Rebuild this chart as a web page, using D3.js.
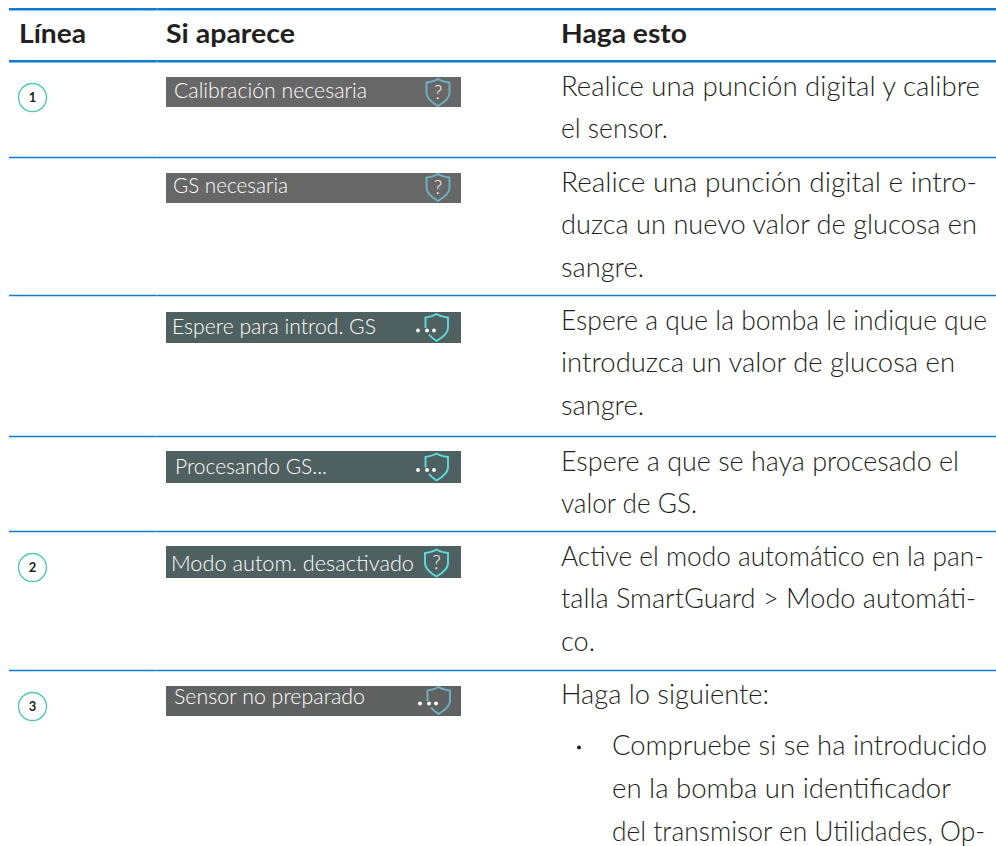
<!DOCTYPE html>
<html>
<head>
<meta charset="utf-8">
<script src="https://cdn.jsdelivr.net/npm/d3@7"></script>
<style>
html, body { margin: 0; padding: 0; background: #fff; overflow: hidden; }
text { font-family: "Lato", sans-serif; }
</style>
</head>
<body>
<div id="table"></div>
<script>
const headers = ['Línea', 'Si aparece', 'Haga esto'];
const lineNumbers = ['1', '', '', '', '2', '3'];
const bannerLabels = ['Calibración necesaria', 'GS necesaria', 'Espere para introd. GS',
  'Procesando GS...', 'Modo autom. desactivado', 'Sensor no preparado'];
const bannerIcons = ['help', 'help', 'wait', 'wait', 'help', 'wait'];
const bannerColors = ['#666766', '#666766', '#4f6060', '#4f6060', '#4f6060', '#5f6261'];
const iconColors = ['#6fb3c4', '#6fb3c4', '#5fdcdc', '#5fdcdc', '#5fdcdc', '#6fb3c4'];
const actionLines = [
  ['Realice una punción digital y calibre', 'el sensor.'],
  ['Realice una punción digital e intro-', 'duzca un nuevo valor de glucosa en', 'sangre.'],
  ['Espere a que la bomba le indique que', 'introduzca un valor de glucosa en', 'sangre.'],
  ['Espere a que se haya procesado el', 'valor de GS.'],
  ['Active el modo automático en la pan-', 'talla SmartGuard > Modo automáti-', 'co.'],
  ['Haga lo siguiente:']
];
const bulletLines = ['Compruebe si se ha introducido', 'en la bomba un identificador', 'del transmisor en Utilidades, Op-'];

// layout
const rowTops = [61, 157, 295, 436, 531, 670];
const actionWidths = [[419, 107], [416, 416, 83], [426, 394, 83], [398, 136], [423, 415, 34], [208]];
const bulletWidths = [375, 339, 373];
const bannerTop = [77, 173, 312, 451, 546, 686];
const bannerHeight = [30, 30, 31, 32, 32, 30];
const bannerTextX = [174, 173, 172, 175, 171, 174];
const bannerTextW = [193, 115, 204, 152, 243, 191];
const bannerBase = [97.7, 192.7, 334, 474, 570.7, 704];
const iconX = [438, 438, 436.5, 436.5, 436.5, 438.5];
const iconY = [92, 187, 327, 466.5, 562.5, 700];

const width = 996, height = 846;
const blue = '#0f7bd6', ink = '#231f20';
const colX = [9, 157, 996];
const lineStep = 42.7;

const svg = d3.select('#table').append('svg')
  .attr('width', width)
  .attr('height', height)
  .style('display', 'block');

// rules, split at the column edge as in the source table
const rules = [{ y: 9.2, w: 2.6 }, { y: 61.3, w: 2.6 }].concat(rowTops.slice(1).map(y => ({ y: y + 0.5, w: 1.3 })));
rules.forEach(r => {
  svg.append('line').attr('x1', colX[0]).attr('x2', colX[1] - 0.15).attr('y1', r.y).attr('y2', r.y)
    .attr('stroke', blue).attr('stroke-width', r.w);
  svg.append('line').attr('x1', colX[1] + 0.15).attr('x2', colX[2]).attr('y1', r.y).attr('y2', r.y)
    .attr('stroke', blue).attr('stroke-width', r.w);
});

// header
const headerX = [19, 166, 561], headerW = [67, 129, 126];
svg.selectAll('text.head').data(headers).enter().append('text')
  .attr('class', 'head')
  .attr('x', (d, i) => headerX[i])
  .attr('y', 43)
  .attr('font-size', 27)
  .attr('font-weight', 700)
  .attr('fill', ink)
  .attr('textLength', (d, i) => headerW[i])
  .attr('lengthAdjust', 'spacingAndGlyphs')
  .text(d => d);

const rows = svg.selectAll('g.row').data(rowTops).enter().append('g')
  .attr('class', 'row');

// numbered circles
const numbered = rows.filter((d, i) => lineNumbers[i] !== '');
numbered.append('circle')
  .attr('cx', 32.5).attr('cy', d => d + 36.5).attr('r', 14)
  .attr('fill', '#fff').attr('stroke', '#4fc9b4').attr('stroke-width', 1.4);
numbered.append('text')
  .attr('x', 32.5).attr('y', d => d + 41)
  .attr('text-anchor', 'middle')
  .attr('font-size', 13).attr('font-weight', 700).attr('fill', ink)
  .text(d => lineNumbers[rowTops.indexOf(d)]);

// banners
rows.append('rect')
  .attr('x', 166).attr('y', (d, i) => bannerTop[i]).attr('width', 295)
  .attr('height', (d, i) => bannerHeight[i])
  .attr('fill', (d, i) => bannerColors[i]);
rows.append('text')
  .attr('x', (d, i) => bannerTextX[i]).attr('y', (d, i) => bannerBase[i])
  .attr('font-size', 21).attr('font-weight', 300).attr('fill', '#fff')
  .attr('textLength', (d, i) => bannerTextW[i])
  .attr('lengthAdjust', 'spacingAndGlyphs')
  .text((d, i) => bannerLabels[i]);

// shield icons
const shieldPath = 'M0,-13 C4,-10.5 8,-10 11.5,-9.5 L11.5,1 C11.5,6 6,10.5 0,14 C-6,10.5 -11.5,6 -11.5,1 L-11.5,-9.5 C-8,-10 -4,-10.5 0,-13 Z';
const waitPath = 'M-11,1 L-11,-9.5 C-8,-10 -4,-10.5 0,-13 C4,-10.5 8,-10 11.5,-9.5 L11.5,1 C11.5,6 6,10.5 0,14 C-3,12 -5.5,10 -7.5,7.5';
const icons = rows.append('g').attr('transform', (d, i) => `translate(${iconX[i]},${iconY[i]})`);
icons.append('path')
  .attr('d', (d, i) => bannerIcons[i] === 'help' ? shieldPath : waitPath)
  .attr('fill', 'none')
  .attr('stroke', (d, i) => iconColors[i])
  .attr('stroke-width', 1.9);
icons.filter((d, i) => bannerIcons[i] === 'help').append('text')
  .attr('x', 0).attr('y', 6.5)
  .attr('text-anchor', 'middle')
  .attr('font-size', 19).attr('font-weight', 300).attr('fill', '#fff')
  .text('?');
icons.filter((d, i) => bannerIcons[i] === 'wait').selectAll('circle')
  .data([-18.5, -9.5, -2.5]).enter().append('circle')
  .attr('cx', d => d).attr('cy', 3.5).attr('r', 1.9).attr('fill', '#fff');

// right column
rows.each(function (top, i) {
  const baseline = i === 5 ? 33.5 : 34.5;
  d3.select(this).selectAll('text.action').data(actionLines[i]).enter().append('text')
    .attr('class', 'action')
    .attr('x', 561)
    .attr('y', (d, j) => top + baseline + j * lineStep)
    .attr('font-size', 27).attr('font-weight', 300).attr('fill', ink)
    .attr('textLength', (d, j) => actionWidths[i][j])
    .attr('lengthAdjust', 'spacingAndGlyphs')
    .text(d => d);
});

// bullet list in the last row
svg.append('circle').attr('cx', 579).attr('cy', 747.5).attr('r', 2).attr('fill', ink);
svg.selectAll('text.bullet').data(bulletLines).enter().append('text')
  .attr('class', 'bullet')
  .attr('x', 612)
  .attr('y', (d, i) => 755 + i * 43)
  .attr('font-size', 27).attr('font-weight', 300).attr('fill', ink)
  .attr('textLength', (d, i) => bulletWidths[i])
  .attr('lengthAdjust', 'spacingAndGlyphs')
  .text(d => d);
</script>
</body>
</html>
